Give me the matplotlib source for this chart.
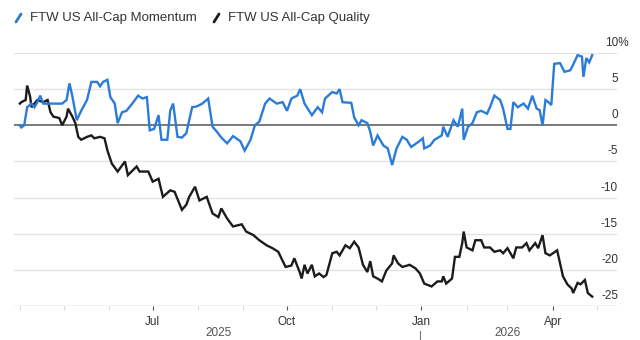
import datetime as dt
import matplotlib
matplotlib.use("Agg")
import matplotlib.pyplot as plt
import matplotlib.dates as mdates
import matplotlib.transforms as mtransforms
from matplotlib.lines import Line2D

plt.rcParams["font.family"] = ["Liberation Sans", "DejaVu Sans"]

start = dt.date(2025, 4, 1)

# days since 2025-04-01 and cumulative return (%)
momentum_days = [0, 1, 3, 5, 8, 10, 12, 14, 16, 21, 25, 29, 32, 34, 36, 39, 42, 46, 49, 53,
                 55, 57, 60, 62, 65, 67, 70, 73, 77, 81, 84, 87, 89, 92, 95, 97, 101, 103, 105, 108,
                 111, 114, 118, 121, 125, 129, 132, 135, 138, 142, 146, 151, 154, 158, 161, 164, 168, 171, 176, 180,
                 183, 186, 190, 192, 195, 200, 204, 207, 209, 214, 217, 219, 221, 227, 229, 232, 234, 238, 240, 242,
                 245, 249, 252, 255, 258, 262, 265, 268, 273, 276, 277, 281, 284, 289, 290, 293, 297, 300, 303, 304,
                 307, 310, 313, 316, 320, 322, 325, 329, 331, 334, 336, 338, 341, 345, 348, 351, 354, 356, 358, 360,
                 362, 364, 366, 370, 373, 377, 379, 382, 385, 386, 388, 390, 392]
momentum = [0, -0.3, 0, 2.5, 3, 2.5, 3.2, 4.1, 3, 3, 3, 3, 3.5, 5.8, 4, 0.7, 2, 3.5, 6, 6,
            5.4, 6, 6.3, 3.9, 3, 0.3, 1.8, 2, 3, 4.1, 3.7, 3.9, -0.7, -0.5, 1.4, -2, -2, 2, 3, -1.6,
            -1.7, -1.1, 2.5, 2.6, 3, 3.7, -0.2, -0.9, -1.7, -2.5, -1.5, -2.2, -3.5, -2, 0, 0.5, 3, 3.7, 3, 3.2,
            2, 3.7, 4.1, 5, 3, 1.4, 2.5, 1.8, 3.7, 4.6, 4.4, 5, 3.2, 3.1, 1.1, 0, 0.7, 0.3, -0.9, -2.8,
            -1.4, -2.8, -3.2, -5.5, -3.2, -1.6, -2, -3, -2.3, -1.8, -3.2, -2.8, -2, -1.4, -0.2, -1.6, 0.7, -0.2, 2.3, -2,
            -0.2, 0.3, 1.8, 2, 1.6, 2.5, 4.1, 3.5, 2.3, -0.5, -0.5, 3.2, 2.5, 3, 2.3, 4.1, 2.3, 2.1, 0, 3.5,
            3.2, 2.8, 8.5, 8.6, 7.4, 7.6, 8.4, 9.7, 9.5, 6.7, 9.3, 8.7, 9.7]

quality_days = [0, 1, 4, 5, 7, 8, 12, 16, 19, 21, 23, 27, 29, 32, 33, 36, 38, 40, 42, 46,
                49, 51, 55, 58, 60, 63, 67, 72, 74, 80, 82, 88, 91, 95, 98, 103, 106, 111, 114, 116,
                120, 123, 128, 132, 136, 138, 142, 146, 152, 155, 160, 164, 169, 173, 177, 182, 186, 188, 192, 193,
                195, 197, 200, 202, 205, 208, 210, 214, 217, 219, 223, 226, 229, 232, 235, 238, 240, 242, 245, 248,
                251, 255, 256, 259, 262, 267, 271, 274, 277, 282, 286, 289, 290, 292, 296, 298, 301, 303, 304, 306,
                310, 312, 316, 318, 322, 325, 329, 331, 334, 336, 338, 340, 344, 347, 349, 353, 355, 358, 360, 363,
                368, 372, 375, 378, 379, 382, 384, 387, 389, 392]
quality = [3, 3.2, 3.5, 5.5, 4, 2.5, 3.5, 3.2, 3.5, 1.8, 1.2, 1, 0, 1.2, 2.3, 1.2, 0.3, -1.6, -2, -1.6,
           -1.4, -1.8, -1.6, -1.8, -3.5, -5.3, -6.4, -5, -6.9, -5.7, -6.4, -6.4, -7.8, -7.4, -9.9, -9, -9.2, -11.7, -11, -9.9,
           -8.5, -10.4, -9.9, -12.2, -12.7, -11.5, -12.9, -14, -13.7, -14.7, -15.2, -15.9, -16.6, -17, -17.5, -19.6, -19.4, -18.4, -20.5, -21.2,
           -19.3, -20.5, -19.3, -20.9, -20.5, -21, -20.7, -17.7, -17.5, -18, -16.6, -17, -16.1, -16.9, -19.3, -20.3, -18.8, -20.9, -21.2, -21.6,
           -20.1, -19.1, -18, -19.1, -19.6, -19.3, -19.8, -20.5, -21.9, -22.3, -21.6, -21.6, -20.9, -21.9, -21.2, -18.2, -18.2, -16.3, -14.7, -16.9,
           -17.3, -15.9, -15.9, -16.9, -16.9, -17.5, -17.3, -17.7, -17, -17.7, -18.4, -16.9, -16.9, -16.3, -17.3, -16.3, -17, -15.2, -17.7, -18,
           -17.3, -20.9, -22, -22.6, -23.2, -21.8, -22, -21.4, -23.2, -23.7]

y_ticks = [10, 5, 0, -5, -10, -15, -20, -25]
month_labels = ["Jul", "Oct", "Jan", "Apr"]
month_dates = [dt.date(2025, 7, 1), dt.date(2025, 10, 1), dt.date(2026, 1, 1), dt.date(2026, 4, 1)]
series_names = ["FTW US All-Cap Momentum", "FTW US All-Cap Quality"]

BLUE = "#2b7bd8"
BLACK = "#1c1c1c"

m_dates = [start + dt.timedelta(days=d) for d in momentum_days]
q_dates = [start + dt.timedelta(days=d) for d in quality_days]

fig = plt.figure(figsize=(6.4, 3.4), dpi=100)
ax = fig.add_axes([14 / 640, 1 - 306 / 340, 603 / 640, 253 / 340])

ax.set_xlim(dt.date(2025, 3, 28), dt.date(2026, 5, 15))
ax.set_ylim(-25, 10)

for y in y_ticks:
    if y == 0:
        ax.axhline(y, color="#555555", lw=1.1, zorder=1)
    elif y == -25:
        ax.axhline(y, color="#bbbbbb", lw=1.0, zorder=1)
    else:
        ax.axhline(y, color="#e3e3e3", lw=1.0, zorder=1)

ax.plot(q_dates, quality, color=BLACK, lw=1.7, zorder=3, solid_joinstyle="miter")
ax.plot(m_dates, momentum, color=BLUE, lw=1.7, zorder=4, solid_joinstyle="miter")

for s in ax.spines.values():
    s.set_visible(False)
ax.set_yticks([])

# month ticks
ax.xaxis.set_minor_locator(mdates.MonthLocator())
ax.set_xticks(month_dates)
ax.set_xticklabels(month_labels)
ax.tick_params(axis="x", which="major", length=3, width=0.8, color="#555555",
               labelsize=8.5, labelcolor="#333333", pad=4)
ax.tick_params(axis="x", which="minor", length=3, width=0.8, color="#d8d8d8")

# y labels at right, above the gridlines
lab_tr = mtransforms.offset_copy(ax.get_yaxis_transform(), fig=fig, x=1, y=10, units="dots")
for y in y_ticks:
    txt = f"{y}%" if y == 10 else f"{y}"
    xpos = 1.0 + 11 / 603 if y == 10 else 1.0
    ax.text(xpos, y, txt, transform=lab_tr, ha="right", va="center",
            fontsize=8.5, color="#333333")

# year labels
fig.text(219 / 640, 1 - 333 / 340, "2025", ha="center", va="center", fontsize=8.5, color="#555555")
fig.text(508 / 640, 1 - 333 / 340, "2026", ha="center", va="center", fontsize=8.5, color="#555555")
fig.add_artist(Line2D([420 / 640, 420 / 640], [1 - 331 / 340, 0], color="#777777", lw=0.8))

# legend
for i, (name, col) in enumerate(zip(series_names, [BLUE, BLACK])):
    x0 = 16 + i * 198
    fig.add_artist(Line2D([x0 / 640, (x0 + 5) / 640], [1 - 22 / 340, 1 - 14 / 340],
                          color=col, lw=2, solid_capstyle="round"))
    fig.text((x0 + 14) / 640, 1 - 18 / 340, name, ha="left", va="center",
             fontsize=9.5, color="#333333")

fig.savefig("out.png", dpi=100)
